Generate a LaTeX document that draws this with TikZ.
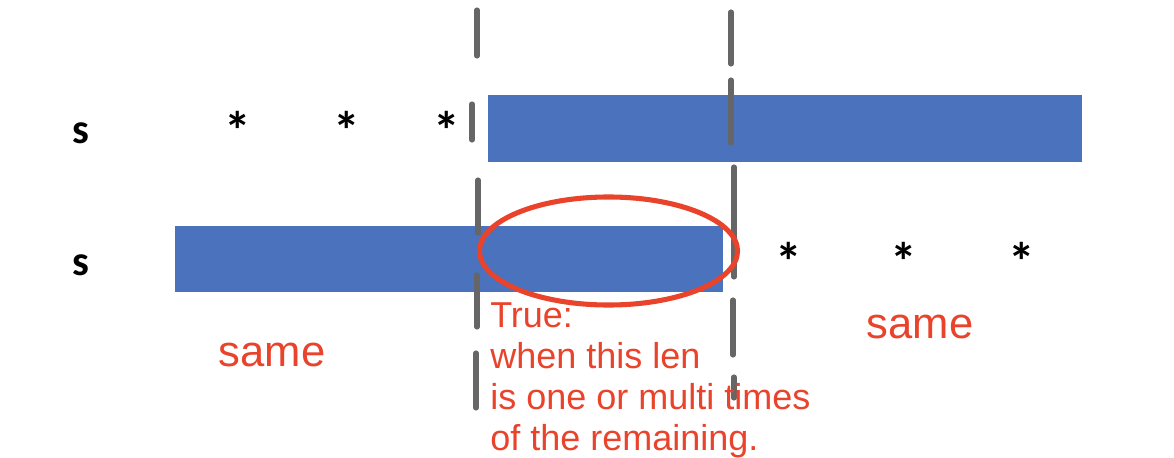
\documentclass[tikz,border=0pt]{standalone}
\usepackage{fontspec}
\setmainfont{Liberation Sans}
\newfontfamily\calfont{Carlito}
\usepackage{xcolor}
\usetikzlibrary{shapes.geometric}
\definecolor{barblue}{HTML}{4A72BD}
\definecolor{markred}{HTML}{E9432B}
\definecolor{dashgray}{HTML}{666666}
\tikzstyle{bar} = [rectangle, fill=barblue, inner sep=0pt, anchor=north west]
\tikzstyle{letter} = [font=\calfont\bfseries\fontsize{30}{30}\selectfont, inner sep=0pt]
\tikzstyle{star} = [font=\calfont\bfseries\fontsize{38}{38}\selectfont, inner sep=0pt]
\tikzstyle{note} = [font=\fontsize{31}{31}\selectfont, text=markred, inner sep=0pt]
\tikzstyle{cut} = [draw=dashgray, line width=3.6pt, line cap=round]

\begin{document}
\begin{tikzpicture}[x=0.025cm, y=-0.025cm]
    \useasboundingbox (0,0) rectangle (1174,458);
    % the two copies of s
    \node (topbar) [bar, minimum width=14.85cm, minimum height=1.675cm] at (488,95) {};
    \node (botbar) [bar, minimum width=13.7cm, minimum height=1.65cm] at (175,226) {};
    \node (s1) [letter] at (81,133) {s};
    \node (s2) [letter] at (81,265) {s};
    \node (a1) [star] at (238,130) {*};
    \node (a2) [star] at (347,130) {*};
    \node (a3) [star] at (447,130) {*};
    \node (b1) [star] at (789,261) {*};
    \node (b2) [star] at (904,261) {*};
    \node (b3) [star] at (1022,261) {*};

    % cut lines
    \draw [cut] (477,10) -- (477,56);
    \draw [cut] (472,104) -- (472,140);
    \draw [cut] (478,180) -- (478,233);
    \draw [cut] (477,275) -- (477,327);
    \draw [cut] (476,353) -- (476,408);
    \draw [cut] (731,12) -- (731,64);
    \draw [cut] (731,80) -- (731,143);
    \draw [cut] (734,167) -- (734,277);
    \draw [cut] (733,300) -- (733,355);
    \draw [cut] (734,377) -- (734,398);

    \node (overlap) [ellipse, draw=markred, line width=3.6pt, minimum width=6.45cm, minimum height=2.7cm] at (608.5,251) {};

    \node (same1) [note] at (272,355) {same};
    \node (same2) [note] at (920,327) {same};
    \node (why) [note, anchor=north west, align=left, font=\fontsize{25.6}{29.3}\selectfont] at (490,302)
        {True:\\when this len\\is one or multi times\\of the remaining.};
\end{tikzpicture}
\end{document}
